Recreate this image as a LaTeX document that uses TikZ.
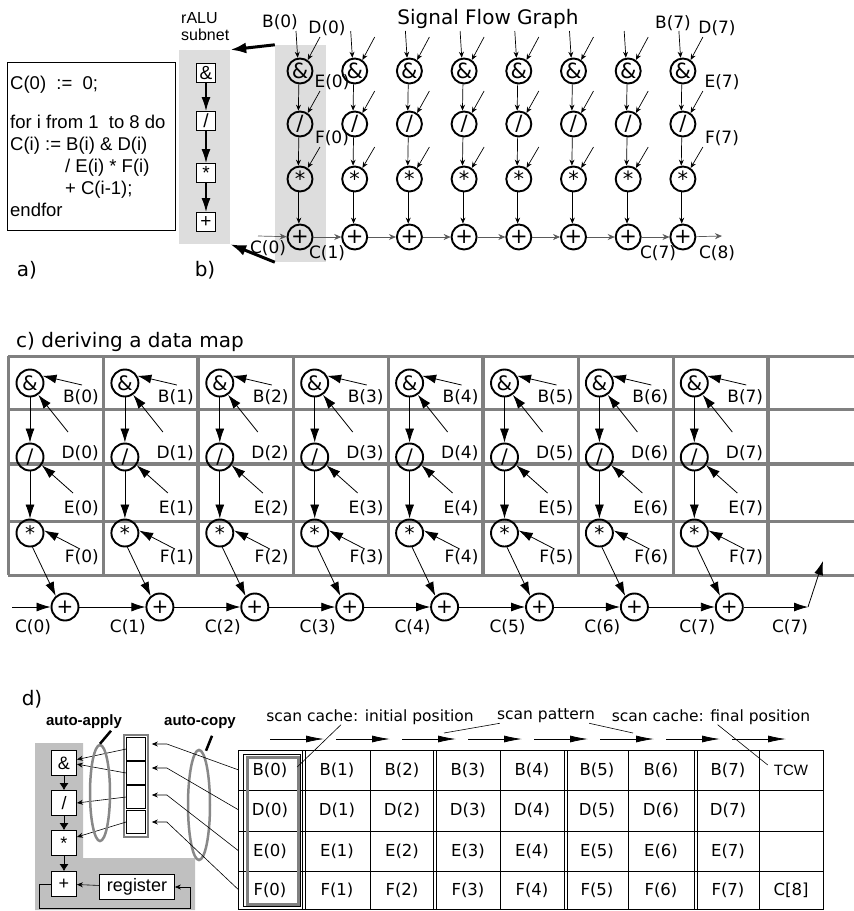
\documentclass[tikz,border=0pt]{standalone}
\usepackage{fontspec}
\setmainfont{DejaVu Sans}
\newfontfamily\helv{Liberation Sans}
\usepackage{tikz}
\usetikzlibrary{arrows.meta,calc,shapes.geometric,positioning}
\definecolor{panelgray}{RGB}{221,221,221}
\definecolor{alugray}{RGB}{192,192,192}
\definecolor{gridgray}{RGB}{128,128,128}
\definecolor{ellgray}{RGB}{136,136,136}
\definecolor{chaingray}{RGB}{90,90,90}

\begin{document}
\begin{tikzpicture}[x=1pt, y=-1pt,
  every node/.style={inner sep=0pt},
  flowop/.style={circle, draw, line width=1.9pt, minimum size=25pt, font=\fontsize{21}{21}\selectfont},
  mapop/.style={circle, draw, line width=1.9pt, minimum size=27pt, font=\fontsize{20}{20}\selectfont},
  alubox/.style={rectangle, draw, fill=white, line width=0.8pt, minimum size=19pt, font=\helv\fontsize{19}{19}\selectfont},
  dbox/.style={rectangle, draw, fill=white, line width=0.8pt, minimum size=25pt, font=\helv\fontsize{18}{18}\selectfont},
  lbl/.style={font=\fontsize{17}{17}\selectfont},
  heading/.style={font=\fontsize{20}{20}\selectfont},
  boldlbl/.style={font=\helv\bfseries\fontsize{15}{15}\selectfont},
  cellt/.style={minimum width=62pt, minimum height=38pt, font=\fontsize{16.5}{16.5}\selectfont},
  kcell/.style={draw, line width=0.7pt, minimum width=19pt, minimum height=23pt},
  sf/.style={-{Stealth[length=6pt,width=5pt]}, line width=0.7pt},
  sumflow/.style={-{Stealth[length=7pt,width=6pt]}, line width=0.7pt, chaingray},
  maparr/.style={-{Latex[length=14pt,width=9pt]}, line width=0.8pt},
  aluarr/.style={-{Latex[length=14pt,width=9pt]}, line width=1.6pt},
  subarr/.style={-{Latex[length=16pt,width=11pt]}, line width=3pt},
  darr/.style={-{Latex[length=7pt,width=9pt]}, line width=0.8pt},
  tarr/.style={-{Stealth[length=6pt,width=5pt]}, line width=0.6pt},
  scanarr/.style={-{Latex[length=18pt,width=7pt]}, line width=0.8pt},
  leader/.style={line width=0.6pt},
  mapgrid/.style={gridgray, line width=3pt},
  slashmark/.style={line width=2.5pt},
  tab/.style={line width=0.9pt}
]
\useasboundingbox (0,0) rectangle (854,911);

% a) program
\node[draw, line width=0.8pt, minimum width=168pt, minimum height=168pt] (codebox) at (91,146) {};
\node[anchor=west, align=left, font=\helv\fontsize{18.5}{22}\selectfont] (code) at (10,146)
  {C(0)~ :=~ 0;\\[17pt] for i from 1~ to 8 do\\ C(i) := B(i) \& D(i)\\
   \hspace*{55pt}/ E(i) * F(i)\\ \hspace*{55pt}+ C(i-1);\\ endfor};
\node[heading] (la) at (27,270) {a)};
\node[heading] (lb) at (205,270) {b)};

% b) rALU subnet and signal flow graph
\node[fill=panelgray, minimum width=51pt, minimum height=194pt] (rpanel) at (204.5,147) {};
\node[fill=panelgray, minimum width=51pt, minimum height=217pt] (cpanel) at (300.5,153.5) {};
\node[anchor=north west, align=left, font=\helv\fontsize{16}{17}\selectfont] (ralu) at (181,12) {rALU\\subnet};
\node[alubox] (ra) at (206,73) {\&};
\node[alubox] (rd) at (206,121) {/};
\node[alubox] (rm) at (206,173) {*};
\node[alubox] (rp) at (206,222) {+};
\draw[aluarr] (ra) -- (rd);
\draw[aluarr] (rd) -- (rm);
\draw[aluarr] (rm) -- (rp);
\draw[subarr] (cpanel.north west) -- (rpanel.north east);
\draw[subarr] (cpanel.south west) -- (rpanel.south east);

\node[heading] (sfg) at (488,19) {Signal Flow Graph};
\foreach \i in {0,...,7} {
  \pgfmathsetmacro{\x}{300+54.7*\i}
  \node[flowop] (fa\i) at (\x,71) {\&};
  \node[flowop] (fd\i) at (\x,124) {/};
  \node[flowop] (fm\i) at (\x,179) {*};
  \node[flowop] (fp\i) at (\x,237) {+};
  \coordinate (ib\i) at (\x-4,31);
  \coordinate (id\i) at (\x+20,37);
  \coordinate (ie\i) at (\x+20,91);
  \coordinate (if\i) at (\x+20,147);
  \draw[sf] (ib\i) -- (fa\i.100);
  \draw[sf] (id\i) -- (fa\i.55);
  \draw[sf] (fa\i.265) -- (fd\i.97);
  \draw[sf] (ie\i) -- (fd\i.55);
  \draw[sf] (fd\i.265) -- (fm\i.97);
  \draw[sf] (if\i) -- (fm\i.55);
  \draw[sf] (fm\i.265) -- (fp\i.95);
}
\coordinate (cin) at (258,236);
\coordinate (cout) at (722,236);
\draw[sumflow] (cin) -- (fp0);
\foreach \i in {0,...,6} {
  \pgfmathtruncatemacro{\j}{\i+1}
  \draw[sumflow] (fp\i) -- (fp\j);
}
\draw[sumflow] (fp7) -- (cout);
\node[lbl] (lb0) at (280,22) {B(0)};
\node[lbl] (ld0) at (327,28) {D(0)};
\node[lbl] (le0) at (332,82) {E(0)};
\node[lbl] (lf0) at (332,138) {F(0)};
\node[lbl] (lc0) at (268,248) {C(0)};
\node[lbl] (lc1) at (327,253) {C(1)};
\node[lbl] (lb7) at (673,23) {B(7)};
\node[lbl] (ld7) at (717,28) {D(7)};
\node[lbl] (le7) at (722,82) {E(7)};
\node[lbl] (lf7) at (722,138) {F(7)};
\node[lbl] (lc7) at (658,253) {C(7)};
\node[lbl] (lc8) at (717,253) {C(8)};

% c) data map
\node[heading, anchor=west] (lcm) at (16,342) {c) deriving a data map};
\foreach \y/\w in {356/3,409/3,464/4.5,521/3,575/3}
  \draw[mapgrid, line width=\w pt] (8,\y) -- (854,\y);
\foreach \i/\w in {0/3,1/3,2/4.5,3/3,4/3,5/4.5,6/3,7/3,8/4.5}
  \draw[mapgrid, line width=\w pt] (8+95*\i,356) -- (8+95*\i,575);
\foreach \i in {0,...,7} {
  \pgfmathsetmacro{\x}{30+94.9*\i}
  \node[mapop] (ma\i) at (\x,383) {\&};
  \node[mapop] (md\i) at (\x,457) {/};
  \node[mapop] (mm\i) at (\x,533) {*};
  \node[mapop] (mp\i) at (\x+35,607) {+};
  \node[lbl, anchor=east] (mb\i) at (\x+69,397) {B(\i)};
  \node[lbl, anchor=east] (mdl\i) at (\x+69,453) {D(\i)};
  \node[lbl, anchor=east] (mel\i) at (\x+69,508) {E(\i)};
  \node[lbl, anchor=east] (mfl\i) at (\x+69,557) {F(\i)};
  \node[lbl] (mc\i) at (\x+3,627) {C(\i)};
  \coordinate (cb\i) at (\x+52,385);
  \coordinate (cd\i) at (\x+38,432);
  \coordinate (ce\i) at (\x+43,493);
  \coordinate (cf\i) at (\x+50,549);
  \draw[maparr] (cb\i) -- (ma\i.30);
  \draw[maparr] (cd\i) -- (ma\i.-55);
  \draw[maparr] (ma\i) -- (md\i);
  \draw[maparr] (ce\i) -- (md\i.-35);
  \draw[maparr] (md\i) -- (mm\i);
  \draw[maparr] (cf\i) -- (mm\i.10);
  \draw[maparr] (mm\i.-80) -- (mp\i.130);
}
\node[lbl] (mc8) at (790,627) {C(7)};
\coordinate (min) at (12,607);
\coordinate (mout) at (808,607);
\coordinate (mup) at (823,561);
\draw[maparr] (min) -- (mp0);
\foreach \i in {0,...,6} {
  \pgfmathtruncatemacro{\j}{\i+1}
  \draw[maparr] (mp\i) -- (mp\j);
}
\draw[maparr] (mp7) -- (mout);
\draw[maparr] (mout) -- (mup);

% d) rALU with scan cache
\node[heading] (ld) at (32,699) {d)};
\fill[alugray] (35,743) -- (83,743) -- (83,858) -- (195,858) -- (195,910) -- (35,910) -- cycle;
\node[dbox] (ua) at (64,763) {\&};
\node[dbox] (ud) at (64,803) {/};
\node[dbox] (um) at (64,843) {*};
\node[dbox] (up) at (64,884) {+};
\node[rectangle, draw, fill=white, line width=0.8pt, minimum width=75pt, minimum height=25pt,
      font=\helv\fontsize{18}{18}\selectfont] (rg) at (137,887) {register};
\draw[darr] (ua) -- (ud);
\draw[darr] (ud) -- (um);
\draw[darr] (um) -- (up);
\draw[tarr] (rg) -- (up);
\draw[tarr] (up.west) -- ++(-12,0) -- ++(0,24) -- ++(151,0) |- (rg.east);

\node[draw=gridgray, line width=2.5pt, minimum width=24pt, minimum height=102pt] (cache) at (136,786) {};
\node[kcell] (kB) at (136,749) {};
\node[kcell] (kD) at (136,773) {};
\node[kcell] (kE) at (136,797) {};
\node[kcell] (kF) at (136,822) {};
\draw[tarr] (kB.west) -- (ua.15);
\draw[tarr] (kD.west) -- (ua.-5);
\draw[tarr] (kE.west) -- (ud.east);
\draw[tarr] (kF.west) -- (um.25);

\node[ellipse, draw=ellgray, line width=2.5pt, minimum width=20pt, minimum height=96pt] (apply) at (100,793) {};
\node[ellipse, draw=ellgray, line width=2.5pt, minimum width=22pt, minimum height=110pt] (copy) at (199,805) {};
\node[boldlbl] (applylbl) at (84,722) {auto-apply};
\node[boldlbl] (copylbl) at (200,722) {auto-copy};
\draw[slashmark] (apply.north) -- ++(11,-13);
\draw[slashmark] ($(copy.north)+(7,2)$) -- ++(6,-15);

% table
\draw[tab] (238,750) rectangle (823,909);
\foreach \y in {790,831,871} \draw[tab] (238,\y) -- (823,\y);
\foreach \x in {302,305,370,433,436,500,564,567,628,694,697,759} \draw[tab] (\x,750) -- (\x,909);
\draw[line width=0.6pt] (243.5,754.5) rectangle (300.5,906);
\draw[gridgray, line width=3pt] (247,757) rectangle (298,904);
\foreach \r/\y in {B/770,D/810,E/851,F/890} {
  \foreach \c/\x in {0/270,1/337,2/402,3/468,4/532,5/597,6/661,7/728}
    \node[cellt] (t\r\c) at (\x,\y) {\r(\c)};
}
\node[cellt, font=\helv\fontsize{15}{15}\selectfont] (tT) at (791,770) {TCW};
\node[cellt] (tC) at (791,890) {C[8]};

\draw[tarr] (tB0.west) -- ($(kB.east)+(21,-5)$) -- ($(kB.east)+(6,-5)$);
\draw[tarr] (tD0.west) -- ($(kD.east)+(21,-5)$) -- ($(kD.east)+(6,-5)$);
\draw[tarr] (tE0.west) -- ($(kE.east)+(21,-2)$) -- ($(kE.east)+(6,-2)$);
\draw[tarr] (tF0.west) -- ($(kF.east)+(21,0)$) -- ($(kF.east)+(6,0)$);

% scan pattern
\foreach \i in {0,...,7} {
  \coordinate (ss\i) at (270+66*\i,739);
  \coordinate (se\i) at (324+66*\i,739);
  \draw[scanarr] (ss\i) -- (se\i);
}
\node[font=\fontsize{15.5}{15.5}\selectfont] (sci) at (370,717) {scan cache: initial position};
\node[font=\fontsize{15.5}{15.5}\selectfont] (scp) at (546,716) {scan pattern};
\node[font=\fontsize{15.5}{15.5}\selectfont] (scf) at (711,717) {scan cache: final position};
\draw[leader] ($(sci.south)+(-29,0)$) -- ($(tB0.east)+(-4,-3)$);
\draw[leader] ($(scp.south west)+(3,0)$) -- ($(se2)+(-12,-6)$);
\draw[leader] ($(scp.south east)+(-6,0)$) -- ($(se5)+(-21,-6)$);
\draw[leader] ($(scf.south west)+(106,0)$) -- ($(tT.west)+(8,-5)$);
\end{tikzpicture}
\end{document}
